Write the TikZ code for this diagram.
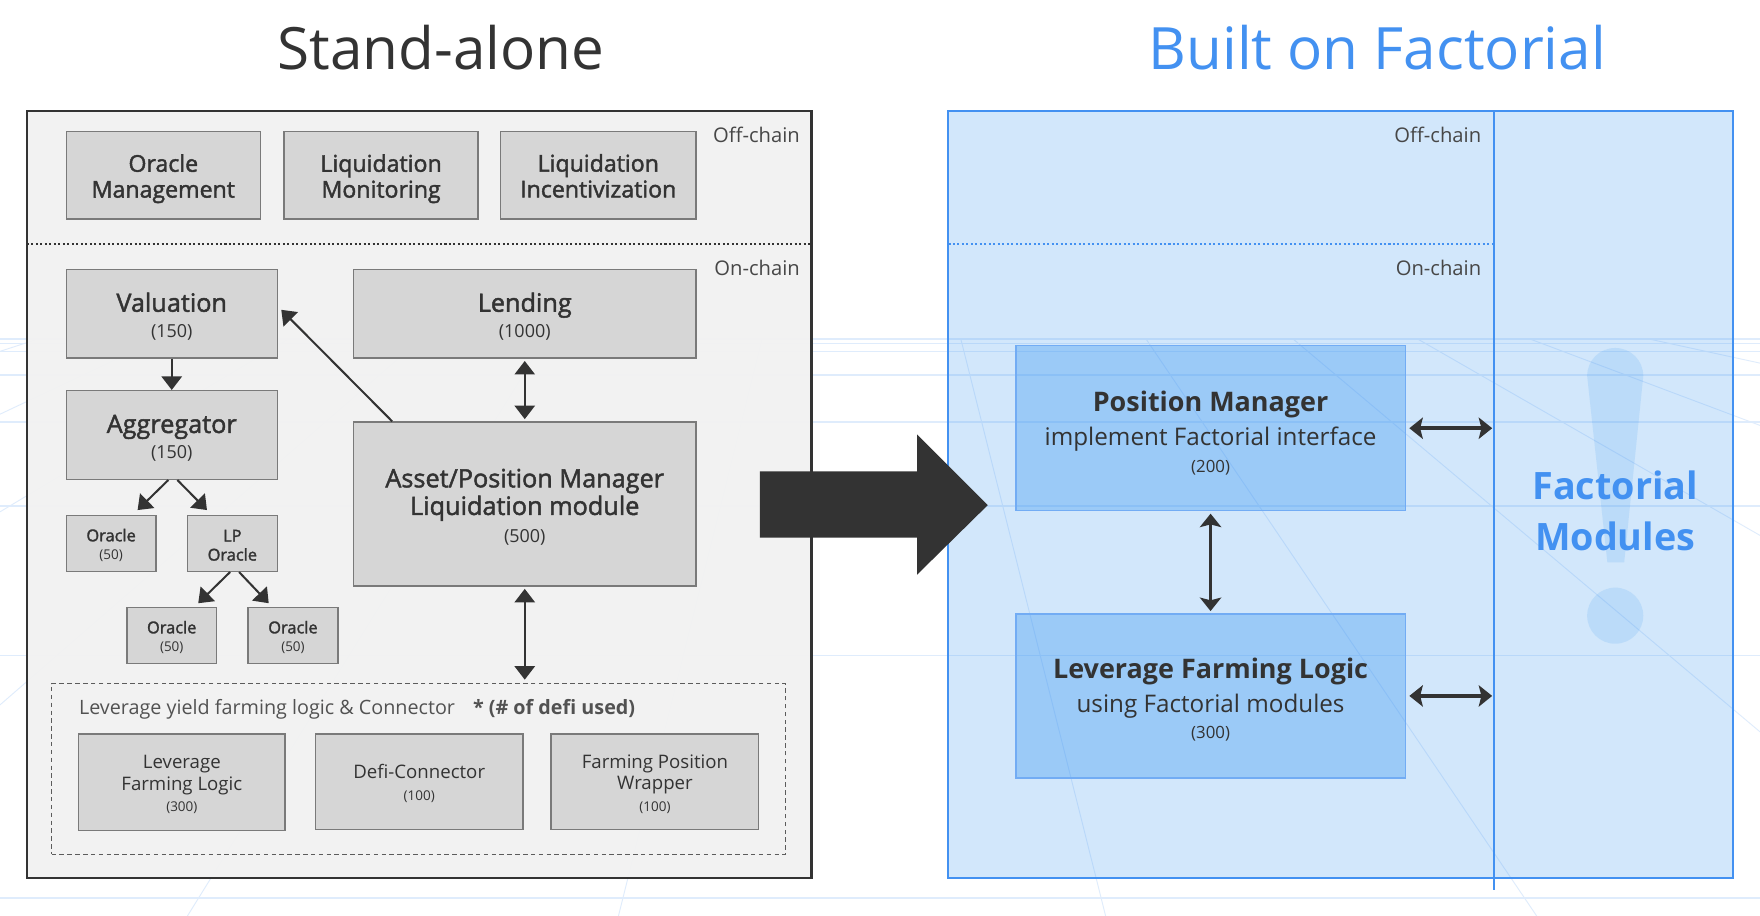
\documentclass[tikz,border=0pt]{standalone}
\usepackage{fontspec}
\setmainfont{Open Sans}
\newfontfamily\sbf{Open Sans}[FakeBold=1.8]
\usetikzlibrary{arrows.meta}
\definecolor{txt}{HTML}{333333}
\definecolor{fblue}{HTML}{4391F1}
\definecolor{tint}{RGB}{51,146,241}
\definecolor{boxgray}{HTML}{D6D6D6}
\definecolor{bordergray}{HTML}{7A7A7A}
\definecolor{panelgray}{HTML}{F2F2F2}
\definecolor{gridc}{HTML}{DFECFC}
\newcommand\fsz[2]{\fontsize{#1}{#2}\selectfont}
\newcommand\up[1]{\rule{0pt}{#1}}
\begin{document}
\begin{tikzpicture}[x=0.5pt,y=-0.5pt,
  sz/.style 2 args={minimum width=#1*0.5pt, minimum height=#2*0.5pt},
  gbox/.style={draw=bordergray, fill=boxgray, line width=0.6pt, inner sep=0pt, align=center, text=txt},
  bbox/.style={draw=fblue!75, fill=tint, fill opacity=0.34, text opacity=1, line width=0.6pt, inner sep=0pt, align=center, text=txt},
  lab/.style={font=\fsz{9}{11}, text=txt!90, inner sep=0pt},
  arr/.style={line width=0.9pt, draw=txt, -{Triangle[length=6pt,width=9pt]}},
  darr/.style={line width=0.9pt, draw=txt, {Triangle[length=6pt,width=9pt]}-{Triangle[length=6pt,width=9pt]}},
  barr/.style={line width=1.6pt, draw=txt, {Stealth[length=6pt,width=9.5pt,inset=1.2pt]}-{Stealth[length=6pt,width=9.5pt,inset=1.2pt]}}
]
\useasboundingbox (0,0) rectangle (1568,816);
\fill[white] (0,0) rectangle (1568,816);

% background perspective grid
\begin{scope}[gridc, line width=0.7pt]
  \foreach \yy in {302,306,313,334,376,451,584,800}
    \draw (0,\yy) -- (1568,\yy);
\end{scope}
\begin{scope}[gridc, line width=0.4pt]
  \draw (0,313) -- (34,302);
  \draw (0,369) -- (142,302);
  \draw (0,456) -- (257,302);
  \draw (0,628) -- (375,302);
  \draw (167,816) -- (486,302);
  \draw (551,816) -- (679,302);
  \draw (856,302) -- (985,816);
  \draw (1021,302) -- (1369,816);
  \draw (1152,302) -- (1568,652);
  \draw (1263,302) -- (1568,477);
  \draw (1363,302) -- (1568,379);
  \draw (1469,302) -- (1568,323.5);
\end{scope}

% titles
\node[text=txt, font=\fsz{26}{30}] (t1) at (393,42) {Stand-alone};
\node[text=fblue, font=\fsz{26}{30}] (t2) at (1227,42) {Built on Factorial};

% left panel
\draw[fill=panelgray, fill opacity=0.95, draw=txt, line width=1pt] (24,99) rectangle (723,782);
\draw[txt, line width=0.9pt, dash pattern=on 0.9pt off 1.1pt] (24,217) -- (723,217);
\node[lab, anchor=east] (off1) at (713,120) {Off-chain};
\node[lab, anchor=east] (on1) at (713,239) {On-chain};

\node[gbox, sz={173}{78}, font=\sbf\fsz{10.3}{11.5}] (om) at (145.5,156) {\up{11pt}Oracle\\Management};
\node[gbox, sz={173}{78}, font=\sbf\fsz{10.3}{11.5}] (lm) at (339.5,156) {\up{11pt}Liquidation\\Monitoring};
\node[gbox, sz={174}{78}, font=\sbf\fsz{10.3}{11.5}] (li) at (533,156) {\up{8.5pt}Liquidation\\Incentivization};

\node[gbox, sz={188}{79}, font=\fsz{8}{11.5}] (val) at (153,279.5) {{\sbf\fsz{11.25}{11.5}\up{11pt}Valuation}\\(150)};
\node[gbox, sz={305}{79}, font=\fsz{8}{11.5}] (lend) at (467.5,279.5) {{\sbf\fsz{11.25}{11.5}\up{11pt}Lending}\\(1000)};
\node[gbox, sz={188}{79}, font=\fsz{8}{11.5}] (agg) at (153,387.5) {{\sbf\fsz{11.25}{11.5}\up{11pt}Aggregator}\\(150)};
\node[gbox, sz={305}{146}, font=\fsz{8}{12.3}] (asset) at (467.5,449) {{\sbf\fsz{11.25}{12.3}\up{11pt}Asset/Position Manager}\\{\sbf\fsz{11.25}{12.3}Liquidation module}\\(500)};

\node[gbox, sz={80}{50}, font=\fsz{6}{8.3}] (or1) at (99,484) {{\sbf\fsz{7.3}{8.3}\up{7.5pt}Oracle}\\(50)};
\node[gbox, sz={80}{50}, font=\sbf\fsz{7.3}{8.5}] (lp) at (207,484) {\up{7pt}LP\\Oracle};
\node[gbox, sz={80}{50}, font=\fsz{6}{8.3}] (or2) at (153,566) {{\sbf\fsz{7.3}{8.3}\up{7.5pt}Oracle}\\(50)};
\node[gbox, sz={80}{50}, font=\fsz{6}{8.3}] (or3) at (261,566) {{\sbf\fsz{7.3}{8.3}\up{7.5pt}Oracle}\\(50)};

\node[draw=txt!80, line width=0.5pt, dash pattern=on 2pt off 1.5pt, sz={654}{152}, inner sep=0pt] (grp) at (373,685) {};
\node[anchor=west, inner sep=0pt, text=txt!85, font=\fsz{8.8}{10}] (grplab) at (70,632) {Leverage yield farming logic \& Connector\hspace{8pt}\textbf{* (\# of defi used)}};

\node[gbox, sz={184}{86}, font=\fsz{6}{9.6}] (lfl) at (162,697) {{\fsz{8.3}{9.6}\up{8pt}Leverage}\\{\fsz{8.3}{9.6}Farming Logic}\\(300)};
\node[gbox, sz={185}{85}, font=\fsz{6}{9.4}] (defi) at (373.5,696.5) {{\fsz{8.3}{9.4}\up{7.8pt}Defi-Connector}\\(100)};
\node[gbox, sz={185}{85}, font=\fsz{6}{9.6}] (fpw) at (583.5,696.5) {{\fsz{8.3}{9.6}\up{8pt}Farming Position}\\{\fsz{8.3}{9.6}Wrapper}\\(100)};

% left connectors
\draw[arr] (val.south) -- (agg.north);
\draw[arr] ([xshift=-1.5pt]agg.south) -- ([xshift=-8.5pt,yshift=2pt]or1.north east);
\draw[arr] ([xshift=2.5pt]agg.south) -- ([xshift=9pt,yshift=2pt]lp.north west);
\draw[arr] ([xshift=-1pt]lp.south) -- ([xshift=-8.5pt,yshift=1.5pt]or2.north east);
\draw[arr] ([xshift=3pt]lp.south) -- ([xshift=9.5pt,yshift=1.5pt]or3.north west);
\draw[arr] ([xshift=17.5pt]asset.north west) -- ([xshift=1.5pt,yshift=1.75pt]val.east);
\draw[darr, shorten <=1pt, shorten >=1pt] (lend.south) -- (asset.north);
\draw[darr, shorten <=1pt, shorten >=1.5pt] (asset.south) -- (asset.south |- grp.north);

% right panel
\fill[tint, fill opacity=0.22] (845,99) rectangle (1544,782);
\draw[fblue, line width=0.9pt] (845,99) rectangle (1544,782);
\coordinate (vtop) at (1331,99);
\coordinate (vbot) at (1331,793);
\draw[fblue, line width=0.7pt] (vtop) -- (vbot);
\draw[fblue, line width=0.9pt, dash pattern=on 0.9pt off 1.1pt] (845,217) -- (1331,217);
\node[lab, anchor=east] (off2) at (1320,120) {Off-chain};
\node[lab, anchor=east] (on2) at (1320,239) {On-chain};

% big arrow
\fill[txt] (677,420) -- (817,420) -- (817,387) -- (880,450) -- (817,512) -- (817,479) -- (677,479) -- cycle;

% faint exclamation mark
\fill[tint, fill opacity=0.14] (1414,335) .. controls (1414,321) and (1425,310) .. (1439,310)
  .. controls (1453,310) and (1464,321) .. (1464,335) -- (1447,501) -- (1432,501) -- cycle;
\fill[tint, fill opacity=0.14] (1439,548.5) circle[radius=12.5pt];

\node[text=fblue, font=\bfseries\fsz{16.8}{23}, align=center, inner sep=0pt] (fm) at (1439,455) {Factorial\\Modules};

\node[bbox, sz={347}{147}, font=\fsz{7.5}{12}] (pm) at (1078.5,381.5) {{\bfseries\fsz{12}{12}\up{13.5pt}Position Manager}\\[3pt]{\fsz{10.8}{12}implement Factorial interface}\\(200)};
\node[bbox, sz={347}{146}, font=\fsz{7.5}{12}] (lfl2) at (1078.5,620) {{\bfseries\fsz{12}{12}\up{12.5pt}Leverage Farming Logic}\\[3pt]{\fsz{10.8}{12}using Factorial modules}\\(300)};

\draw[barr, shorten <=1.5pt, shorten >=0.8pt] (pm.east) -- (pm.east -| vtop);
\draw[barr, shorten <=1.5pt, shorten >=0.8pt] (lfl2.east) -- (lfl2.east -| vtop);
\draw[barr, shorten <=1pt, shorten >=1pt] (pm.south) -- (lfl2.north);
\end{tikzpicture}
\end{document}
